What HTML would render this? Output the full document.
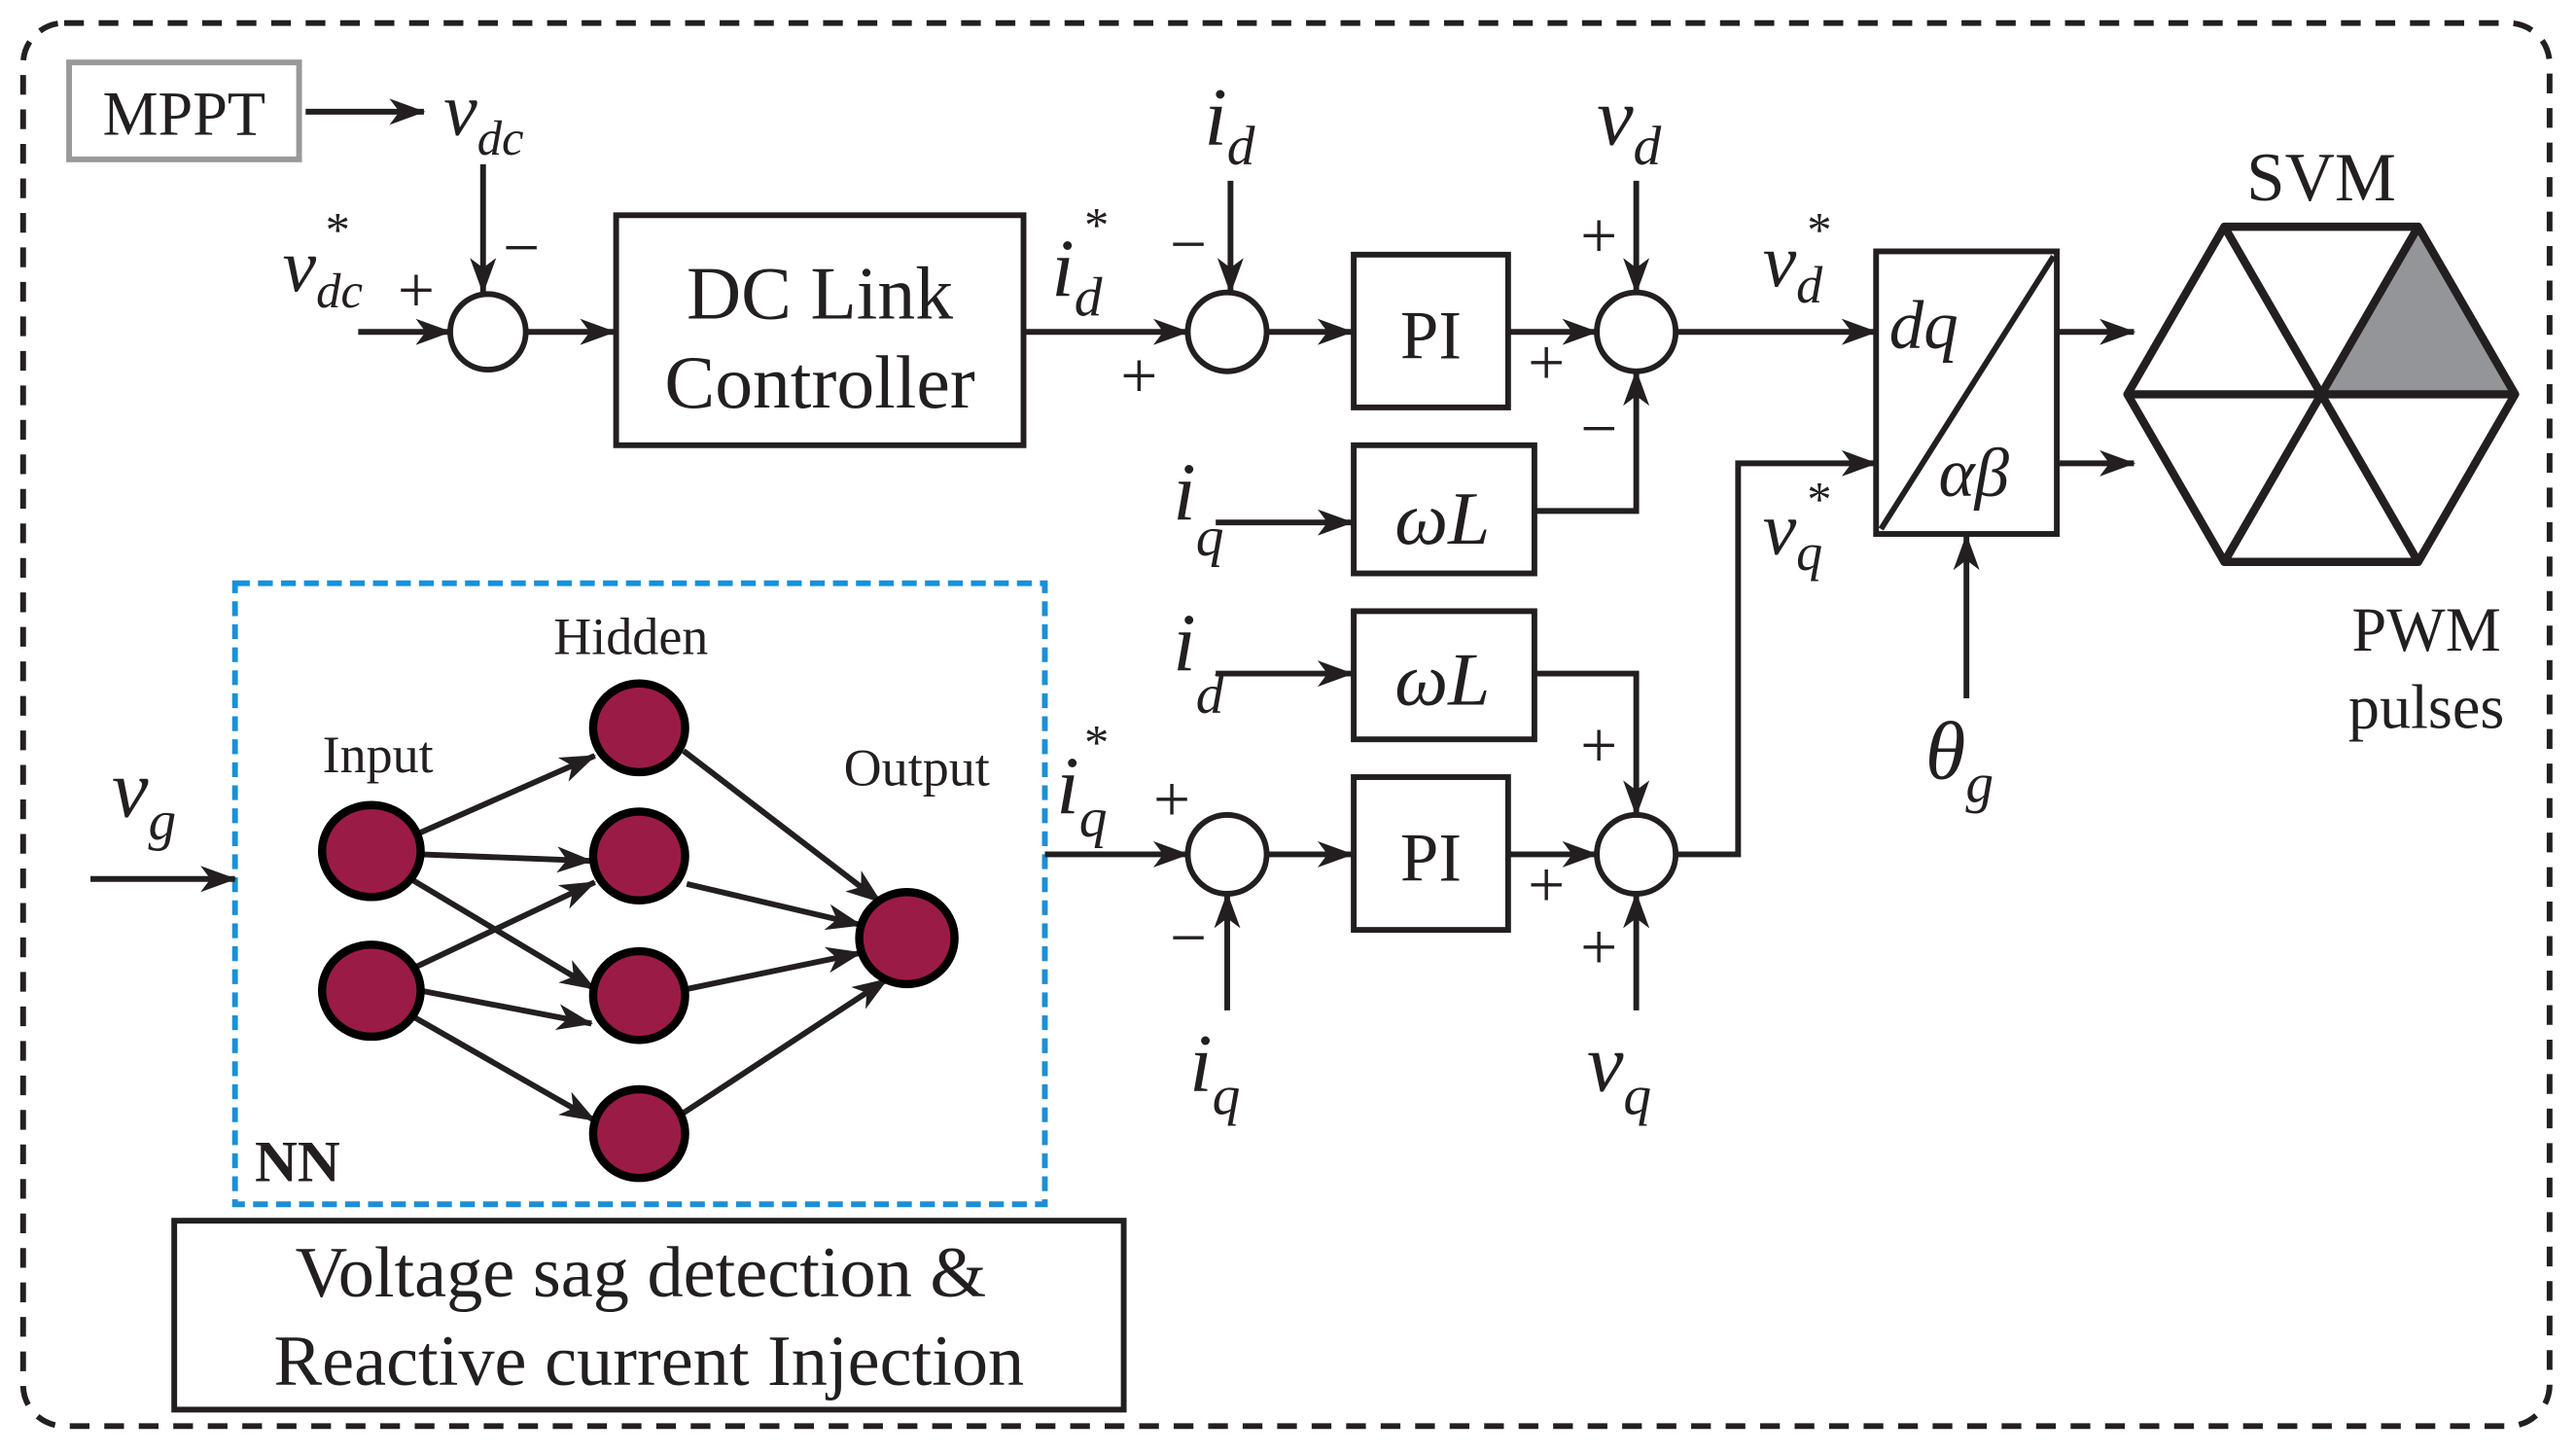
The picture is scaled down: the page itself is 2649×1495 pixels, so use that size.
<!DOCTYPE html>
<html><head><meta charset="utf-8"><style>
html,body{margin:0;padding:0;background:#fff;}
svg{display:block;}
text{font-family:"Liberation Serif",serif;fill:#231f20;}
.v{font-style:italic;}
.s{font-size:40px;}
</style></head><body>
<svg width="2649" height="1495" viewBox="0 0 1568 885" xmlns="http://www.w3.org/2000/svg">
<defs>
<marker id="a" viewBox="0 0 22 16" refX="21" refY="8" markerWidth="22" markerHeight="16" orient="auto" markerUnits="userSpaceOnUse">
<path d="M0,0 L22,8 L0,16 L6,8 z" fill="#231f20"/>
</marker>
</defs>
<g stroke="#231f20" fill="none" stroke-width="3.5">
<rect x="14" y="14" width="1538" height="854" rx="25" stroke-dasharray="12,9"/>
<rect x="42" y="38" width="140" height="59" stroke="#999"/>
<rect x="375" y="131" width="248" height="140"/>
<rect x="824" y="155" width="94" height="93"/>
<rect x="824" y="271" width="110" height="78"/>
<rect x="824" y="372" width="110" height="78"/>
<rect x="824" y="473" width="94" height="93"/>
<rect x="1142" y="153" width="110" height="172"/>
<line x1="1145" y1="322" x2="1250" y2="156"/>
<rect x="106" y="743" width="578" height="115"/>
<rect x="143" y="355" width="493" height="378" stroke="#1b8fd6" stroke-dasharray="9,5"/>
<circle cx="297" cy="202" r="23"/>
<circle cx="747" cy="202" r="24"/>
<circle cx="996" cy="202" r="24"/>
<circle cx="747" cy="520" r="24"/>
<circle cx="996" cy="520" r="24"/>
</g>
<g stroke="#231f20" fill="none" stroke-width="3.5">
<path d="M186,68H258" marker-end="url(#a)"/>
<path d="M294,100V178" marker-end="url(#a)"/>
<path d="M218,202H274" marker-end="url(#a)"/>
<path d="M320,202H374" marker-end="url(#a)"/>
<path d="M623,202H723" marker-end="url(#a)"/>
<path d="M749,110V178" marker-end="url(#a)"/>
<path d="M771,202H823" marker-end="url(#a)"/>
<path d="M918,202H972" marker-end="url(#a)"/>
<path d="M996,110V178" marker-end="url(#a)"/>
<path d="M934,311H996V226" marker-end="url(#a)"/>
<path d="M740,318H823" marker-end="url(#a)"/>
<path d="M1020,202H1142" marker-end="url(#a)"/>
<path d="M1252,202H1299" marker-end="url(#a)"/>
<path d="M1252,282H1299" marker-end="url(#a)"/>
<path d="M1197,425V326" marker-end="url(#a)"/>
<path d="M55,535H143" marker-end="url(#a)"/>
<path d="M636,520H723" marker-end="url(#a)"/>
<path d="M747,615V544" marker-end="url(#a)"/>
<path d="M771,520H823" marker-end="url(#a)"/>
<path d="M918,520H972" marker-end="url(#a)"/>
<path d="M740,410H823" marker-end="url(#a)"/>
<path d="M934,410H996V496" marker-end="url(#a)"/>
<path d="M996,615V544" marker-end="url(#a)"/>
<path d="M1020,520H1058V282H1142" marker-end="url(#a)"/>
<path d="M253,508L362,460" marker-end="url(#a)"/>
<path d="M256,520L360,524" marker-end="url(#a)"/>
<path d="M250,535L362,602" marker-end="url(#a)"/>
<path d="M250,590L362,537" marker-end="url(#a)"/>
<path d="M256,603L360,623" marker-end="url(#a)"/>
<path d="M250,618L362,682" marker-end="url(#a)"/>
<path d="M416,457L536,549" marker-end="url(#a)"/>
<path d="M418,538L524,563" marker-end="url(#a)"/>
<path d="M418,602L524,580" marker-end="url(#a)"/>
<path d="M412,680L540,596" marker-end="url(#a)"/>
</g>
<g fill="#9b1b47" stroke="#000" stroke-width="5">
<ellipse cx="226" cy="518" rx="30" ry="28"/>
<ellipse cx="226" cy="603" rx="30" ry="28"/>
<ellipse cx="389" cy="443" rx="28" ry="27"/>
<ellipse cx="389" cy="521" rx="28" ry="27"/>
<ellipse cx="389" cy="606" rx="28" ry="27"/>
<ellipse cx="389" cy="690" rx="28" ry="27"/>
<ellipse cx="552" cy="571" rx="29" ry="28"/>
</g>
<polygon points="1413,240 1472,138 1531,240" fill="#939598"/>
<g stroke="#231f20" stroke-width="5" fill="none" stroke-linejoin="round">
<polygon points="1295,240 1354,138 1472,138 1531,240 1472,342 1354,342"/>
<line x1="1295" y1="240" x2="1531" y2="240"/>
<line x1="1354" y1="138" x2="1472" y2="342"/>
<line x1="1472" y1="138" x2="1354" y2="342"/>
</g>
<text x="112" y="82" font-size="38" text-anchor="middle">MPPT</text>
<text x="270" y="82" font-size="46" class="v">v<tspan font-size="30" dy="12">dc</tspan></text>
<text x="172" y="177" font-size="46" class="v">v<tspan font-size="30" dy="10">dc</tspan></text>
<text x="198" y="150" font-size="30">*</text>
<text x="242" y="190" class="s">+</text>
<text x="306" y="164" class="s">−</text>
<text x="499" y="194" font-size="46" text-anchor="middle">DC Link</text>
<text x="499" y="248" font-size="46" text-anchor="middle">Controller</text>
<text x="640" y="180" font-size="50" class="v">i<tspan font-size="34" dy="12">d</tspan></text>
<text x="660" y="147" font-size="30">*</text>
<text x="682" y="242" class="s">+</text>
<text x="733" y="88" font-size="50" class="v">i<tspan font-size="34" dy="12">d</tspan></text>
<text x="712" y="162" class="s">−</text>
<text x="871" y="218" font-size="42" text-anchor="middle">PI</text>
<text x="930" y="234" class="s">+</text>
<text x="972" y="88" font-size="50" class="v">v<tspan font-size="34" dy="12">d</tspan></text>
<text x="962" y="157" class="s">+</text>
<text x="962" y="274" class="s">−</text>
<text x="878" y="331" font-size="46" class="v" text-anchor="middle">ωL</text>
<text x="714" y="316" font-size="50" class="v">i<tspan font-size="34" dy="22">q</tspan></text>
<text x="1073" y="174" font-size="46" class="v">v<tspan font-size="32" dy="10">d</tspan></text>
<text x="1100" y="150" font-size="30">*</text>
<text x="1150" y="212" font-size="42" class="v">dq</text>
<text x="1180" y="302" font-size="42" class="v">αβ</text>
<text x="1073" y="337" font-size="46" class="v">v<tspan font-size="32" dy="10">q</tspan></text>
<text x="1100" y="314" font-size="30">*</text>
<text x="1413" y="122" font-size="42" text-anchor="middle">SVM</text>
<text x="1477" y="396" font-size="38" text-anchor="middle">PWM</text>
<text x="1477" y="443" font-size="38" text-anchor="middle">pulses</text>
<text x="1172" y="474" font-size="50" class="v">θ<tspan font-size="34" dy="14">g</tspan></text>
<text x="68" y="497" font-size="50" class="v">v<tspan font-size="34" dy="14">g</tspan></text>
<text x="384" y="398" font-size="32" text-anchor="middle">Hidden</text>
<text x="230" y="470" font-size="32" text-anchor="middle">Input</text>
<text x="558" y="478" font-size="32" text-anchor="middle">Output</text>
<text x="155" y="719" font-size="36" font-weight="bold">NN</text>
<text x="643" y="495" font-size="50" class="v">i<tspan font-size="34" dy="14">q</tspan></text>
<text x="660" y="462" font-size="30">*</text>
<text x="702" y="500" class="s">+</text>
<text x="712" y="584" class="s">−</text>
<text x="871" y="536" font-size="42" text-anchor="middle">PI</text>
<text x="930" y="552" class="s">+</text>
<text x="724" y="664" font-size="50" class="v">i<tspan font-size="34" dy="14">q</tspan></text>
<text x="878" y="429" font-size="46" class="v" text-anchor="middle">ωL</text>
<text x="714" y="408" font-size="50" class="v">i<tspan font-size="34" dy="26">d</tspan></text>
<text x="962" y="467" class="s">+</text>
<text x="962" y="590" class="s">+</text>
<text x="966" y="664" font-size="50" class="v">v<tspan font-size="34" dy="14">q</tspan></text>
<text x="390" y="789" font-size="44" text-anchor="middle">Voltage sag detection &amp;</text>
<text x="395" y="843" font-size="44" text-anchor="middle">Reactive current Injection</text>
</svg>
</body></html>
